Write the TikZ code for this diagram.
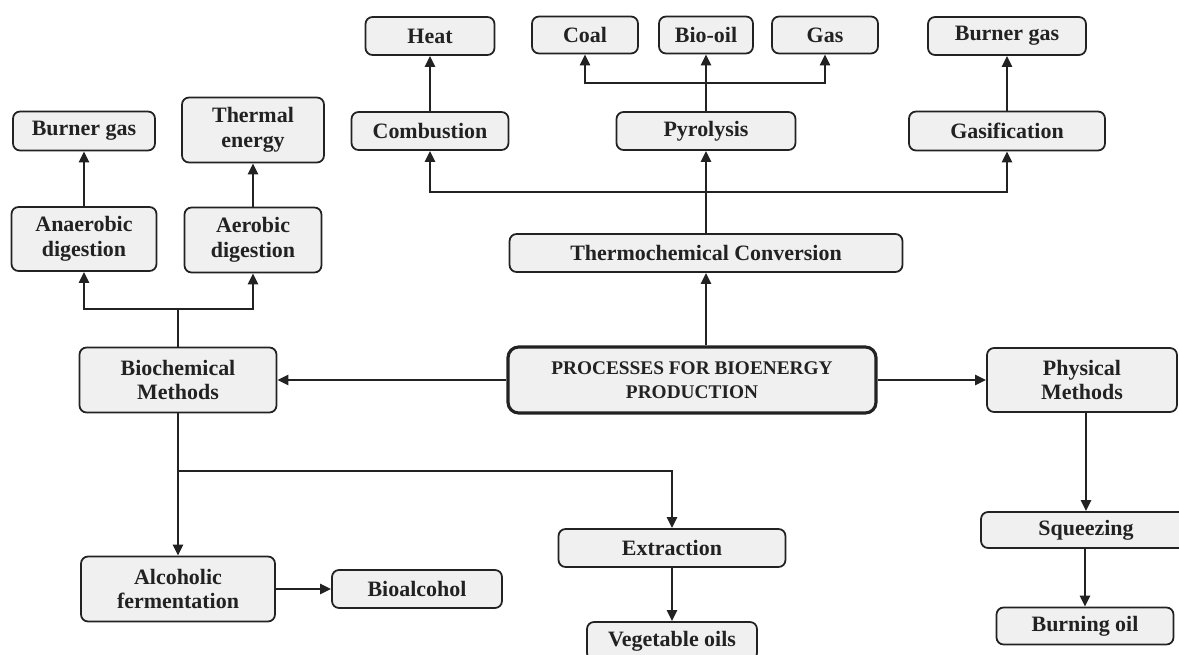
\documentclass[tikz,border=0pt]{standalone}
\usepackage{fontspec}
\setmainfont{Liberation Serif}
\usepackage{xcolor}
\usepackage{tikz}
\usetikzlibrary{arrows.meta}
\definecolor{boxfill}{HTML}{F0F0F0}
\definecolor{ink}{HTML}{222222}

\begin{document}
\begin{tikzpicture}[x=0.02cm,y=-0.02cm,
		box/.style={draw=ink,fill=boxfill,rounded corners=4pt,line width=1pt,align=center,inner sep=0pt,text=ink,font=\bfseries\fontsize{12.5}{14}\selectfont},
		mainbox/.style={box,line width=1.8pt,rounded corners=6pt,font=\bfseries\fontsize{11}{14}\selectfont},
		arr/.style={draw=ink,line width=1.5pt,-{Triangle[length=2.2mm,width=2mm]}},
		link/.style={draw=ink,line width=1.5pt}]
	\useasboundingbox (0,0) rectangle (1179,655);

	\node[mainbox,minimum width=7.36cm,minimum height=1.32cm] (process) at (692,380) {PROCESSES FOR BIOENERGY\\PRODUCTION};

	\node[box,minimum width=7.86cm,minimum height=0.76cm] (thermo) at (706,253) {Thermochemical Conversion};
	\node[box,minimum width=3.14cm,minimum height=0.76cm] (combustion) at (430,131) {Combustion};
	\node[box,minimum width=3.58cm,minimum height=0.76cm] (pyrolysis) at (706,131) {Pyrolysis};
	\node[box,minimum width=3.92cm,minimum height=0.78cm] (gasification) at (1007,131) {Gasification};
	\node[box,minimum width=2.58cm,minimum height=0.76cm] (heat) at (430,36) {Heat};
	\node[box,minimum width=2.12cm,minimum height=0.74cm] (coal) at (585,35) {Coal};
	\node[box,minimum width=1.88cm,minimum height=0.74cm] (biooil) at (706,35) {Bio-oil};
	\node[box,minimum width=2.12cm,minimum height=0.74cm] (gas) at (825,35) {Gas};
	\node[box,minimum width=3.16cm,minimum height=0.76cm] (burnergasR) at (1007,36) {Burner gas};

	\node[box,minimum width=3.94cm,minimum height=1.3cm] (biochem) at (178,380) {Biochemical\\Methods};
	\node[box,minimum width=2.9cm,minimum height=1.28cm] (anaerobic) at (84,239) {Anaerobic\\digestion};
	\node[box,minimum width=2.74cm,minimum height=1.3cm] (aerobic) at (253,240) {Aerobic\\digestion};
	\node[box,minimum width=2.84cm,minimum height=0.78cm] (burnergasL) at (84,131) {Burner gas};
	\node[box,minimum width=2.84cm,minimum height=1.3cm] (thermal) at (253,130) {Thermal\\energy};
	\node[box,minimum width=3.88cm,minimum height=1.3cm] (alcoholic) at (178,589) {Alcoholic\\fermentation};
	\node[box,minimum width=3.4cm,minimum height=0.76cm] (bioalcohol) at (417,589) {Bioalcohol};
	\node[box,minimum width=4.54cm,minimum height=0.76cm] (extraction) at (672,548) {Extraction};
	\node[box,minimum width=3.4cm,minimum height=0.76cm] (vegoils) at (672,641) {Vegetable oils};

	\node[box,minimum width=3.8cm,minimum height=1.28cm] (physical) at (1082,380) {Physical\\Methods};
	\node[box,minimum width=4.2cm,minimum height=0.72cm] (squeezing) at (1086,530) {Squeezing};
	\node[box,minimum width=3.54cm,minimum height=0.74cm] (burningoil) at (1085,626) {Burning oil};

	\coordinate (tsplit) at (706,192);
	\coordinate (psplit) at (706,83);
	\coordinate (bsplit) at (178,309);
	\coordinate (esplit) at (178,471);

	\draw[arr] (process.north -| thermo) -- (thermo.south);
	\draw[link] (thermo.north) -- (tsplit);
	\draw[arr] (tsplit) -| (combustion.south);
	\draw[arr] (tsplit) -- (pyrolysis.south);
	\draw[arr] (tsplit) -| (gasification.south);
	\draw[arr] (combustion) -- (heat);
	\draw[link] (pyrolysis.north) -- (psplit);
	\draw[arr] (psplit) -| (coal.south);
	\draw[arr] (psplit) -- (biooil.south);
	\draw[arr] (psplit) -| (gas.south);
	\draw[arr] (gasification) -- (burnergasR);

	\draw[arr] (process.west) -- (biochem.east);
	\draw[arr] (process.east) -- (physical.west);

	\draw[link] (biochem.north) -- (bsplit);
	\draw[arr] (bsplit) -| (anaerobic.south);
	\draw[arr] (bsplit) -| (aerobic.south);
	\draw[arr] (anaerobic) -- (burnergasL);
	\draw[arr] (aerobic) -- (thermal);
	\draw[arr] (biochem.south) -- (alcoholic.north);
	\draw[arr] (esplit) -| (extraction.north);
	\draw[arr] (alcoholic.east) -- (bioalcohol.west);
	\draw[arr] (extraction) -- (vegoils);

	\draw[arr] (physical.south -| squeezing) -- (squeezing.north);
	\draw[arr] (squeezing.south -| burningoil) -- (burningoil.north);
\end{tikzpicture}
\end{document}
